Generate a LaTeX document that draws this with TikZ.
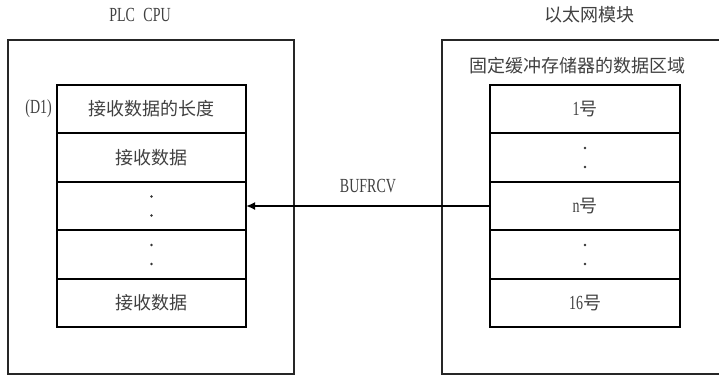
\documentclass[tikz,border=0pt]{standalone}
\usepackage{fontspec}
\setmainfont[FakeStretch=0.7]{Liberation Serif}
\newfontfamily\cjk[Scale=0.9]{Noto Sans CJK SC}
\usetikzlibrary{arrows.meta, positioning}

\begin{document}
\begin{tikzpicture}[
    x=1pt, y=-1pt,
    font=\fontsize{20}{24}\selectfont,
    txt/.style={text=black!75, inner sep=0pt},
    cell/.style={draw=black, line width=1.8pt, minimum width=189pt, minimum height=48.5pt, inner sep=0pt, outer sep=0pt, text=black!75},
    frame/.style={draw=black!85, line width=1.2pt},
    transfer/.style={draw=black, line width=1.8pt, -{Latex[length=9pt, width=8pt]}},
]
\useasboundingbox (0,0) rectangle (719,376);

% Rahmen
\draw[frame] (8,40) rectangle (294,374);
\draw[frame] (719,40) -- (442,40) -- (442,374) -- (719,374);

% Titel
\node[txt] (cpu) at (140,15) {PLC\hspace{5pt} CPU};
\node[txt] (eth) at (589,15) {\cjk 以太网模块};
\node[txt] (area) at (577,66) {\cjk 固定缓冲存储器的数据区域};

% PLC CPU Speicher
\node[cell] (l1) at (151.5,109) {\cjk 接收数据的长度};
\node[cell, below=0pt of l1] (l2) {\cjk 接收数据};
\node[cell, below=0pt of l2] (l3) {};
\node[cell, below=0pt of l3] (l4) {};
\node[cell, below=0pt of l4] (l5) {\cjk 接收数据};
\node[txt, left=5pt of l1] (d1) {(D1)};

% Puffer
\node[cell, minimum width=190pt] (r1) at (585,109) {1{\cjk 号}};
\node[cell, minimum width=190pt, below=0pt of r1] (r2) {};
\node[cell, minimum width=190pt, below=0pt of r2] (r3) {n{\cjk 号}};
\node[cell, minimum width=190pt, below=0pt of r3] (r4) {};
\node[cell, minimum width=190pt, below=0pt of r4] (r5) {16{\cjk 号}};

% Punkte
\foreach \r in {l3,l4,r2,r4} {
    \fill[black!80] ([yshift=9.5pt]\r.center) circle (1.3pt);
    \fill[black!80] ([yshift=-9.5pt]\r.center) circle (1.3pt);
}

% Verbindung
\draw[transfer] (r3.west) -- node[txt, above=12pt] {BUFRCV} (l3.east);

\end{tikzpicture}
\end{document}
